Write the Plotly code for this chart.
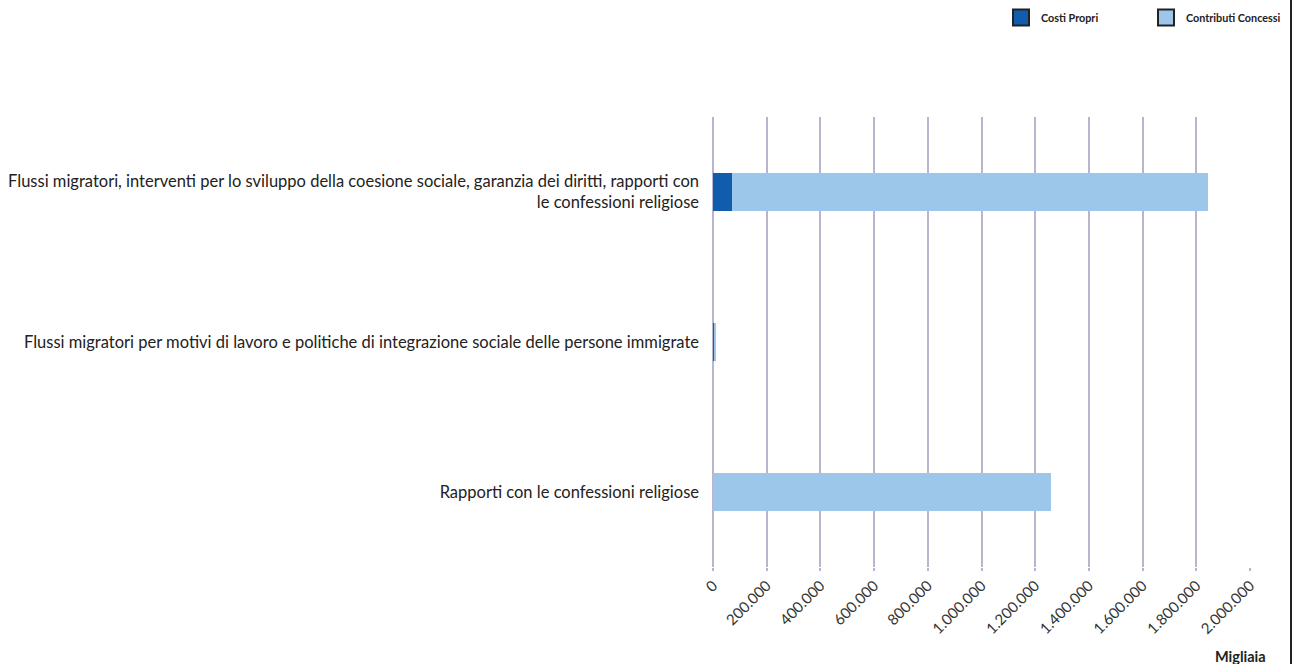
import plotly.graph_objects as go

categories = [
    "Flussi migratori, interventi per lo sviluppo della coesione sociale, garanzia dei diritti, rapporti con<br>le confessioni religiose",
    "Flussi migratori per motivi di lavoro e politiche di integrazione sociale delle persone immigrate",
    "Rapporti con le confessioni religiose",
]
costi_propri = [70000, 5000, 0]
contributi_concessi = [1773000, 5000, 1259000]
tick_vals = [0, 200000, 400000, 600000, 800000, 1000000, 1200000, 1400000, 1600000, 1800000, 2000000]
tick_text = ["0", "200.000", "400.000", "600.000", "800.000", "1.000.000", "1.200.000",
             "1.400.000", "1.600.000", "1.800.000", "2.000.000"]

DARK = "#115cad"
LIGHT = "#9dc7ea"
FONT = "Lato"
GRID = "#b8b5cf"

fig = go.Figure()
fig.add_trace(go.Bar(y=categories, x=costi_propri, orientation="h", name="Costi Propri",
                     marker=dict(color=DARK, line=dict(width=0)), showlegend=False))
fig.add_trace(go.Bar(y=categories, x=contributi_concessi, orientation="h", name="Contributi Concessi",
                     marker=dict(color=LIGHT, line=dict(width=0)), showlegend=False))
# legend entries
for nm, col in [("Costi Propri", DARK), ("Contributi Concessi", LIGHT)]:
    fig.add_trace(go.Scatter(x=[None], y=[None], mode="markers", name=nm,
                             marker=dict(symbol="square", size=16, color=col,
                                         line=dict(color="#222222", width=2))))

fig.update_layout(
    width=1298, height=664,
    margin=dict(l=713, r=48, t=117, b=97),
    paper_bgcolor="white", plot_bgcolor="white",
    barmode="stack", bargap=0.75,
    font=dict(family=FONT, color="#222222"),
    legend=dict(orientation="h", xref="container", yref="container", traceorder="normal",
                x=1001/1298, xanchor="left", y=1 - 3/664, yanchor="top",
                entrywidth=100, entrywidthmode="pixels",
                font=dict(size=10.8, family=FONT, weight="bold", color="#222222"),
                bgcolor="rgba(0,0,0,0)"),
    xaxis=dict(range=[0, 2000000], tickvals=tick_vals, ticktext=tick_text, tickangle=-45,
               showgrid=True, gridcolor=GRID, gridwidth=2, zeroline=True,
               zerolinecolor=GRID, zerolinewidth=2, showline=False, automargin=False,
               tickfont=dict(size=15, color="#333333", family=FONT),
               ticks="outside", ticklen=3, tickcolor=GRID, tickwidth=2),
    yaxis=dict(autorange="reversed", showgrid=False, showline=False, zeroline=False,
               automargin=False,
               tickfont=dict(size=16.5, color="#222222", family=FONT),
               ticklabelstandoff=13),
    annotations=[dict(text="<b>Migliaia</b>", xref="paper", yref="paper",
                      x=(1268 - 713) / 537, y=-89 / 450, xanchor="right", yanchor="middle",
                      showarrow=False, font=dict(size=14.5, color="#222222", family=FONT))],
    shapes=[dict(type="line", xref="paper", yref="paper", x0=(1291 - 713) / 537, x1=(1291 - 713) / 537,
                 y0=-0.5, y1=1.5, line=dict(color="#222222", width=2))],
)

fig.write_html("out.html", post_script="document.body.style.margin='0';",
               config={"displayModeBar": False})
